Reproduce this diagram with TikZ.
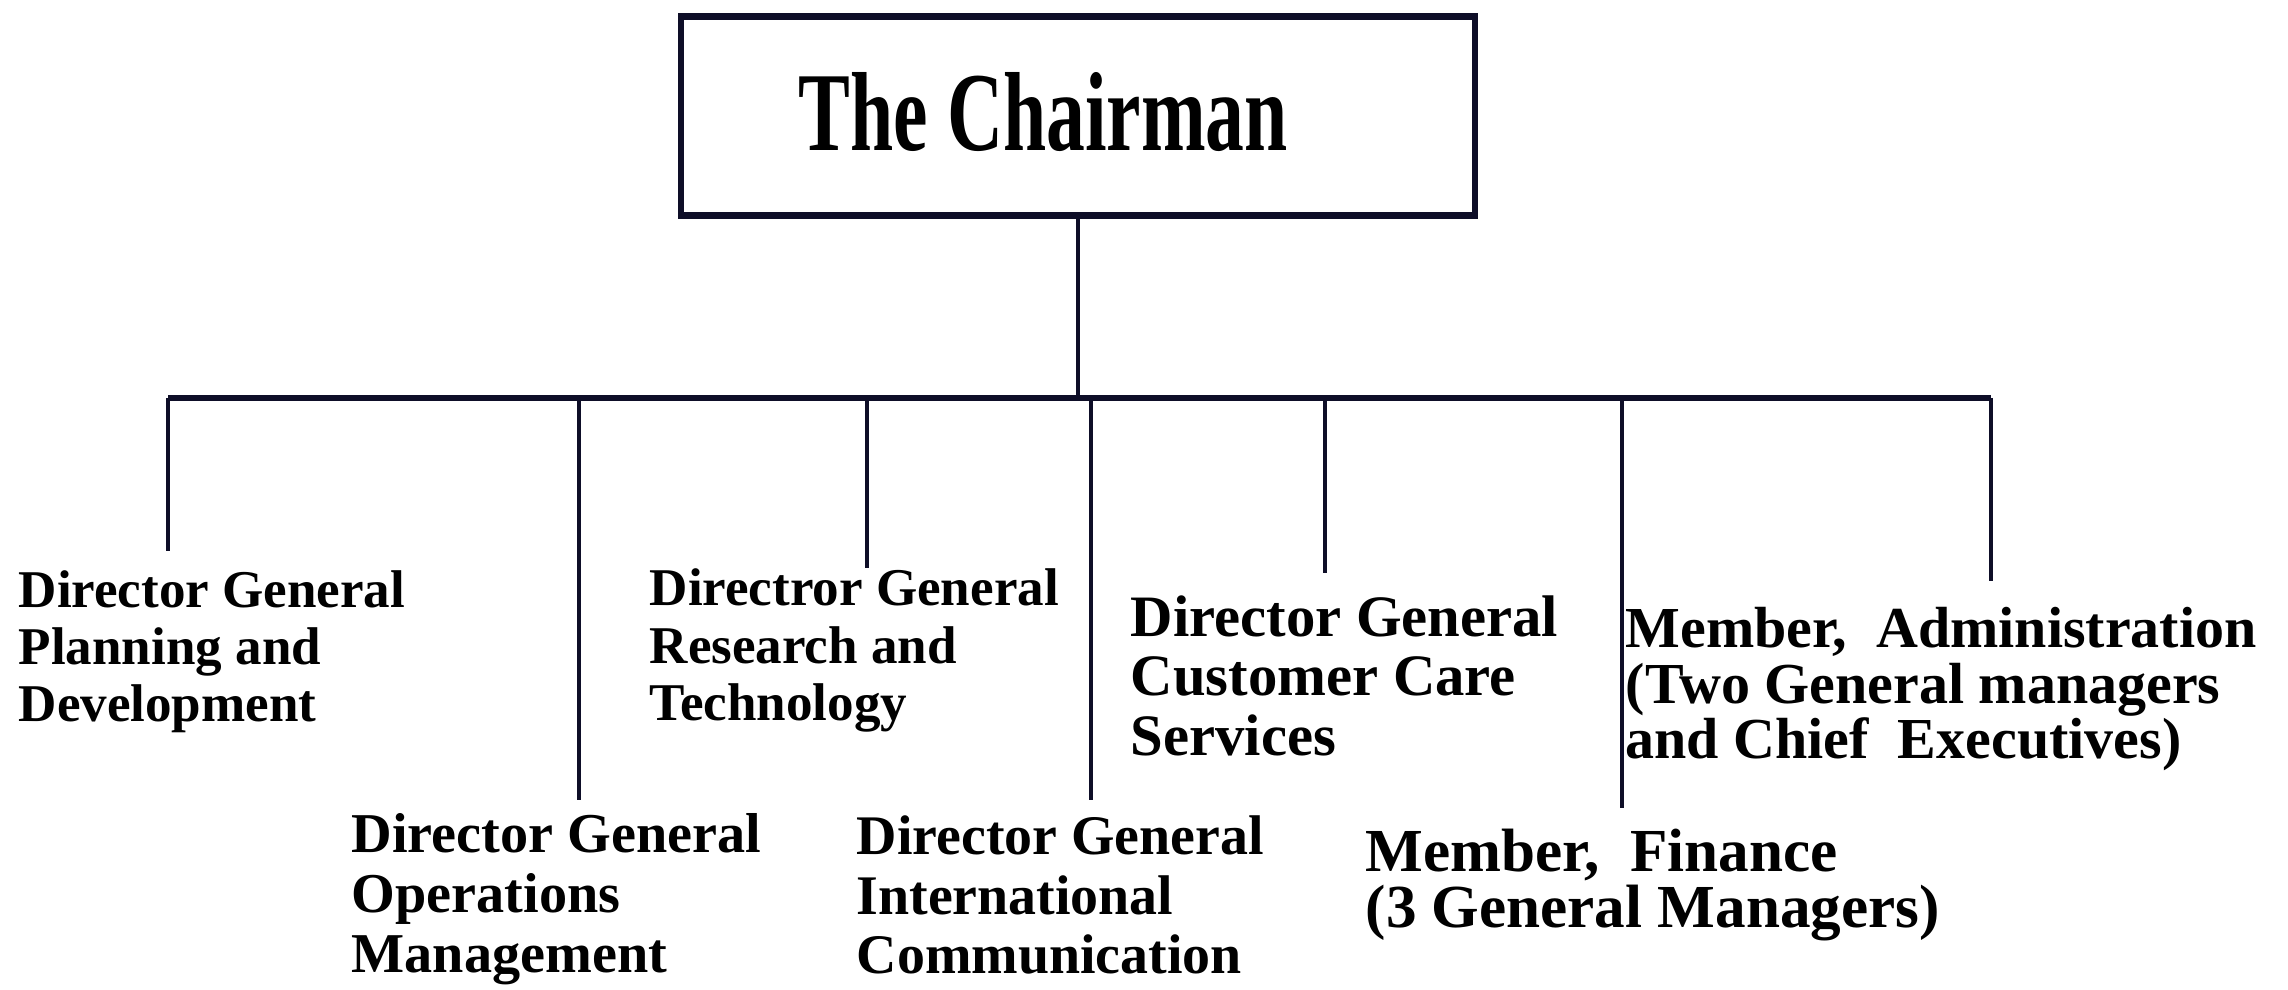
\documentclass[tikz,border=0pt]{standalone}
\usepackage{fontspec}
\setmainfont{Liberation Serif}
\usepackage{graphicx}
\usepackage{tikz}
\definecolor{ink}{RGB}{14,14,40}
\tikzstyle{node_chair} = [rectangle, draw=ink, line width=1.8pt, minimum width=79.4mm, minimum height=19.9mm, inner sep=0pt]
\tikzstyle{node_title} = [inner sep=0pt, text=black, font=\bfseries\fontsize{32}{34}\selectfont]
\tikzstyle{node_post} = [anchor=north west, align=left, inner sep=0pt, text=black]
\tikzstyle{edge_bus} = [draw=ink, line width=1.8pt]
\tikzstyle{edge_drop} = [draw=ink, line width=1.1pt]
\tikzstyle{edge_stem} = [draw=ink, line width=1pt]

\begin{document}
\begin{tikzpicture}[x=0.1mm, y=-0.1mm]
\useasboundingbox (0,0) rectangle (2288,990);

\node (chair) at (1078,116) [node_chair] {};
\node (title) at (1043,112) [node_title] {\scalebox{0.69}[1]{The Chairman}};

\node (plan) at (18,570) [node_post, font=\bfseries\fontsize{15.1}{16.2}\selectfont] {Director General\\Planning and\\Development};
\node (oper) at (351,813) [node_post, font=\bfseries\fontsize{16}{17}\selectfont] {Director General\\Operations\\Management};
\node (rese) at (649,568) [node_post, font=\bfseries\fontsize{15.1}{16.4}\selectfont] {Directror General\\Research and\\Technology};
\node (intl) at (856,815) [node_post, font=\bfseries\fontsize{15.9}{17}\selectfont] {Director General\\International\\Communication};
\node (care) at (1130,595) [node_post, font=\bfseries\fontsize{16.7}{16.9}\selectfont] {Director General\\Customer Care\\Services};
\node (admin) at (1625,607) [node_post, font=\bfseries\fontsize{16.5}{15.7}\selectfont] {Member,~ Administration\\(Two General managers\\and Chief~ Executives)};
\node (fin) at (1365,828) [node_post, font=\bfseries\fontsize{17.4}{15.9}\selectfont] {Member,~ Finance\\(3 General Managers)};

% ends of the drops
\coordinate (bus) at (1078,398);
\coordinate (endA) at (168,551);
\coordinate (endB) at (579,800);
\coordinate (endC) at (867,568);
\coordinate (endD) at (1091,800);
\coordinate (endE) at (1325,573);
\coordinate (endF) at (1622,808);
\coordinate (endG) at (1991,581);

\draw[edge_stem] (chair) -- (bus);
\draw[edge_bus] (endA |- bus) -- (endG |- bus);
\draw[edge_drop] (endA |- bus) -- (endA);
\draw[edge_drop] (endB |- bus) -- (endB);
\draw[edge_drop] (endC |- bus) -- (endC);
\draw[edge_drop] (endD |- bus) -- (endD);
\draw[edge_drop] (endE |- bus) -- (endE);
\draw[edge_drop] (endF |- bus) -- (endF);
\draw[edge_drop] (endG |- bus) -- (endG);
\end{tikzpicture}
\end{document}
